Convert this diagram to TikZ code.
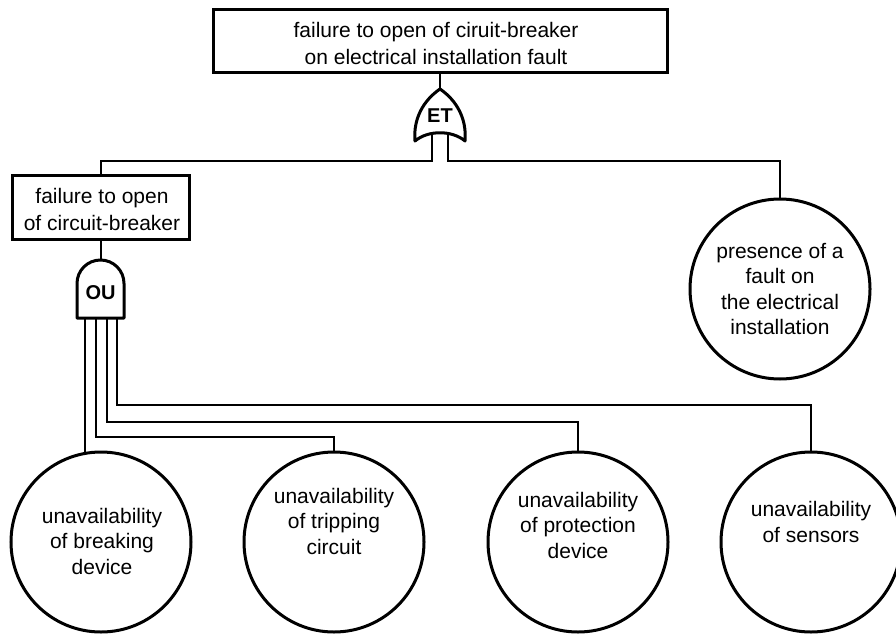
\documentclass[tikz,border=0pt]{standalone}
\usepackage{fontspec}
\setmainfont{Liberation Sans}
\begin{document}
\begin{tikzpicture}[x=1pt,y=-1pt,
  conn/.style={line width=2pt},
  evbox/.style={draw,line width=3pt,rectangle,inner sep=0pt},
  evcirc/.style={draw,line width=3pt,circle,minimum size=180pt,inner sep=0pt},
  lbl/.style={align=center,font=\fontsize{21}{25.5}\selectfont,inner sep=0pt},
  boxlbl/.style={align=center,font=\fontsize{21}{27}\selectfont,inner sep=0pt},
  gate/.style={draw,line width=3pt,fill=white,line join=round},
  gatelbl/.style={font=\bfseries\fontsize{20}{24}\selectfont,inner sep=0pt}]
\useasboundingbox (0,0) rectangle (896,634);

% events
\node[evbox,minimum width=454pt,minimum height=62pt] (top) at (440,41) {};
\node[boxlbl] (toptxt) at (436,43)
  {failure to open of ciruit-breaker\\on electrical installation fault};
\node[evbox,minimum width=177pt,minimum height=64pt] (lbox) at (100.5,207) {};
\node[boxlbl] (ltxt) at (102,209) {failure to open\\of circuit-breaker};
\node[evcirc] (rc) at (780,289) {};
\node[evcirc] (c1) at (101,542) {};
\node[evcirc] (c2) at (334,542) {};
\node[evcirc] (c3) at (578,542) {};
\node[evcirc] (c4) at (811,542) {};

\node[lbl] (tr) at (780,289) {presence of a\\fault on\\the electrical\\installation};
\node[lbl] (t1) at (102,541) {unavailability\\of breaking\\device};
\node[lbl] (t2) at (334,521) {unavailability\\of tripping\\circuit};
\node[lbl] (t3) at (578,525) {unavailability\\of protection\\device};
\node[lbl] (t4) at (811,522) {unavailability\\of sensors};

% gate terminals
\coordinate (ettip) at (440,90);
\coordinate (etL) at (432,134);
\coordinate (etR) at (448,134);
\coordinate (jL) at (432,161);
\coordinate (jR) at (448,161);
\coordinate (outop) at (100.5,260);
\coordinate (l1) at (85,318);
\coordinate (l2) at (96,318);
\coordinate (l3) at (107,318);
\coordinate (l4) at (117,318);
\coordinate (b2) at (96,437);
\coordinate (b3) at (107,422);
\coordinate (b4) at (117,405);

% connectors
\draw[conn] (top.south) -- (ettip);
\draw[conn] (etL) -- (jL) -| (lbox.north);
\draw[conn] (etR) -- (jR) -| (rc.north);
\draw[conn] (lbox.south) -- (outop);
\draw[conn] (l1) -- (l1 |- c1.100);
\draw[conn] (l2) -- (b2) -| (c2.north);
\draw[conn] (l3) -- (b3) -| (c3.north);
\draw[conn] (l4) -- (b4) -| (c4.north);

% ET gate
\draw[gate] (415,141) .. controls (413,118) and (424,100) .. (440,89)
  .. controls (456,100) and (467,118) .. (465,141)
  .. controls (452,130) and (428,130) .. (415,141) -- cycle;
\node[gatelbl] (etlbl) at (440,116) {ET};

% OU gate
\draw[gate] (77,318) -- (77,283.5) arc (180:360:23.5) -- (124,318) -- cycle;
\node[gatelbl] (oulbl) at (100.5,293) {OU};
\end{tikzpicture}
\end{document}
